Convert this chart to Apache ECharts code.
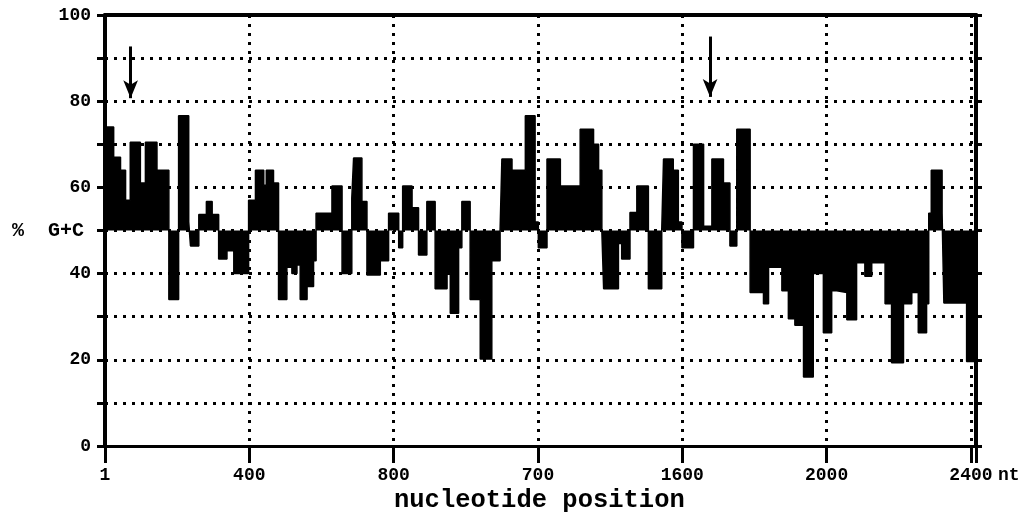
<!DOCTYPE html>
<html>
<head>
<meta charset="utf-8">
<script src="https://cdn.jsdelivr.net/npm/echarts@6.0.0/dist/echarts.min.js"></script>
<style>
html,body{margin:0;padding:0;background:#fff;}
#chart{width:1031px;height:518px;}
</style>
</head>
<body>
<div id="chart"></div>
<script>
// Segment start positions (nt) and %G+C value of each window segment
const segStarts = [0,24,43,57,70,98,112,144,177,204,232,237,260,281,297,315,338,357,398,417,440,447,467,481,504,518,532,541,560,578,585,629,657,684,689,712,726,763,786,814,825,851,869,892,915,948,957,980,989,1012,1040,1072,1095,1100,1128,1165,1192,1201,1225,1262,1317,1354,1368,1377,1382,1423,1432,1455,1474,1506,1543,1548,1575,1589,1599,1631,1659,1682,1714,1732,1751,1788,1825,1839,1876,1894,1912,1936,1963,1991,2014,2028,2056,2083,2106,2125,2162,2180,2213,2236,2254,2277,2283,2290,2320,2325,2388];
const segValues = [74,67,64,57,70.5,61,70.5,64,34,76.6,52,46.4,53.7,56.7,53.7,43.4,45.3,40,57,64,60.5,64,61,34,41.5,40,42,34,37,43,54,60.3,40,57.5,66.8,56.7,39.7,43,54,46,60.3,55.3,44.3,56.7,36.5,40,30.8,46,56.7,34,20.2,43,50,66.6,64,76.6,52,46,66.6,60.3,73.5,70,64,50,36.5,47,43.4,54.2,60.3,36.5,50,66.6,64,52,46,70,51,66.6,61,46.4,73.5,35.6,33,41.5,36,29.5,28,16,40,26.3,36,35.6,29.3,42.5,39.4,42.5,33,19.3,33,35.6,26.3,33,54,64,54,33.2,19.6];
const seqEnd = 2414;
const baseline = 50;

// Axis ticks and labels
const xTickValues = [0,400,800,1200,1600,2000,2400];
const xTickLabels = ['1','400','800','700','1600','2000','2400'];
const yLabelValues = [0,20,40,60,80,100];

// Arrow annotations [x, yTop, yTip]
const arrows = [[71,92.7,80.7],[1677,95,81]];

const data = segStarts.map((s,i)=>[s, segValues[i]]);
data.push([seqEnd, segValues[segValues.length-1]]);

const fontFam = '"Liberation Mono", "DejaVu Sans Mono", monospace';
const dotted = {color:'#000', width:3, type:[3,6]};

const chart = echarts.init(document.getElementById('chart'), null, {renderer:'canvas'});
chart.setOption({
  animation:false,
  backgroundColor:'#fff',
  grid:{left:105, right:55, top:15, bottom:72},
  xAxis:[{
    type:'value', min:0, max:seqEnd, interval:400, position:'bottom',
    axisLine:{show:true, onZero:false, lineStyle:{color:'#000', width:3}},
    axisTick:{show:true, length:17, lineStyle:{color:'#000', width:3}},
    axisLabel:{
      margin:20, color:'#000', fontFamily:fontFam, fontWeight:'bold', fontSize:18,
      formatter:function(v){ const i = xTickValues.indexOf(v); return i>=0 ? xTickLabels[i] : ''; }
    },
    splitLine:{show:true, lineStyle:dotted}
  },{
    type:'value', min:0, max:seqEnd, position:'top', z:6,
    axisLine:{show:true, onZero:false, lineStyle:{color:'#000', width:4}},
    axisTick:{show:false}, axisLabel:{show:false}, splitLine:{show:false}
  }],
  yAxis:[{
    type:'value', min:0, max:100, interval:10, position:'left',
    axisLine:{show:true, onZero:false, lineStyle:{color:'#000', width:4}},
    axisTick:{show:true, length:8, lineStyle:{color:'#000', width:3}},
    axisLabel:{
      margin:14, color:'#000', fontFamily:fontFam, fontWeight:'bold', fontSize:18,
      formatter:function(v){ return yLabelValues.indexOf(v)>=0 ? String(v) : ''; }
    },
    splitLine:{show:true, lineStyle:dotted}
  },{
    type:'value', min:0, max:100, interval:10, position:'right', z:6,
    axisLine:{show:true, onZero:false, lineStyle:{color:'#000', width:4}},
    axisTick:{show:true, length:6, lineStyle:{color:'#000', width:3}},
    axisLabel:{show:false}, splitLine:{show:false}
  }],
  series:[{
    type:'line', step:'end', data:data, xAxisIndex:0, yAxisIndex:0,
    symbol:'none', z:5,
    lineStyle:{color:'#000', width:1.5},
    areaStyle:{color:'#000', opacity:1, origin:baseline},
    markLine:{
      silent:true, symbol:['none','arrow'], symbolSize:[11,18],
      label:{show:false},
      lineStyle:{color:'#000', width:3, type:'solid'},
      data: arrows.map(a=>[{coord:[a[0],a[1]]},{coord:[a[0],a[2]]}])
    }
  }],
  graphic:[
    {type:'text', left:12, top:221, style:{text:'%  G+C', fill:'#000', font:'bold 20px '+fontFam}},
    {type:'text', left:394, top:488, style:{text:'nucleotide position', fill:'#000', font:'bold 25.5px '+fontFam}},
    {type:'text', left:998, top:466, style:{text:'nt', fill:'#000', font:'bold 18px '+fontFam}}
  ]
});
</script>
</body>
</html>
